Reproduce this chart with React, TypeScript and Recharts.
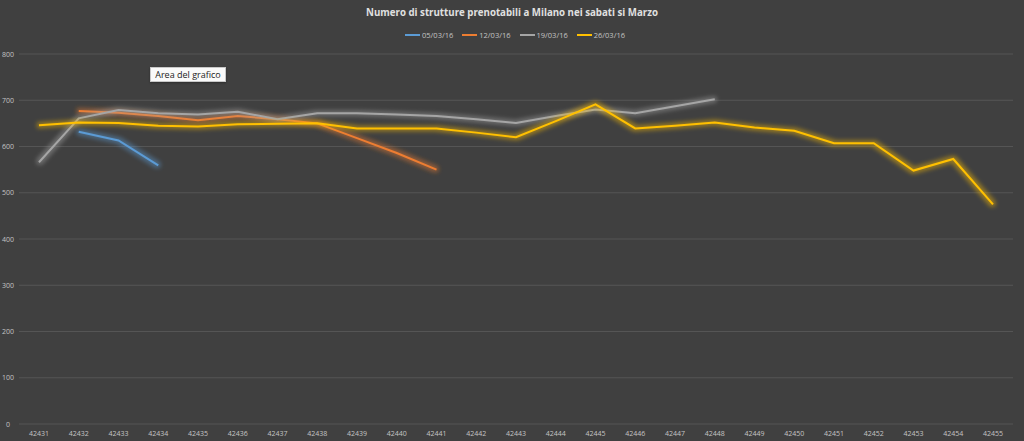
import React from 'react'
import { LineChart, Line, XAxis, YAxis, CartesianGrid } from 'recharts'

// giorni (numeri seriali Excel)
const days = [
  '42431', '42432', '42433', '42434', '42435', '42436', '42437', '42438', '42439',
  '42440', '42441', '42442', '42443', '42444', '42445', '42446', '42447', '42448',
  '42449', '42450', '42451', '42452', '42453', '42454', '42455',
]

const mar05 = [null, 632, 613, 559]
const mar12 = [null, 677, 673, 666, 657, 666, 659, 650, 618, 586, 550]
const mar19 = [566, 661, 679, 672, 669, 675, 659, 672, 672, 669, 666, 659, 651, 666, 680, 672, 687, 702]
const mar26 = [646, 652, 651, 645, 643, 648, 649, 650, 639, 639, 639, 630, 620, 655, 691, 639, 645, 652, 641, 634, 607, 607, 548, 573, 475]

const yTicks = [0, 100, 200, 300, 400, 500, 600, 700, 800]

const series = [
  { key: 's1', name: '05/03/16', color: '#5B9BD5', values: mar05 },
  { key: 's2', name: '12/03/16', color: '#ED7D31', values: mar12 },
  { key: 's3', name: '19/03/16', color: '#A5A5A5', values: mar19 },
  { key: 's4', name: '26/03/16', color: '#FFC000', values: mar26 },
]

const data = days.map((d, i) => {
  const row: Record<string, any> = { day: d }
  series.forEach(s => { row[s.key] = s.values[i] ?? null })
  return row
})

const font = '"Open Sans", "Liberation Sans", sans-serif'

const css =
  'body{margin:0}' +
  series.map(s => `path.glow-${s.key}, .glow-${s.key} path.recharts-curve{filter:url(#glow-${s.key})}`).join('')

const YTick = (props: any) => (
  <text x={8} y={props.y} dy={2.5} textAnchor="middle" fontSize={7} fill="#c4c4c4" fontFamily={font}>
    {props.payload.value}
  </text>
)

const XTick = (props: any) => (
  <text x={props.x} y={433} dy={2.5} textAnchor="middle" fontSize={7} fill="#c4c4c4" fontFamily={font}>
    {props.payload.value}
  </text>
)

export default function App() {
  return (
    <div style={{ position: 'relative', width: 1024, height: 441, background: '#404040', fontFamily: font }}>
      <style>{css}</style>
      {/* filtri "bagliore" come in Excel */}
      <svg width={0} height={0} style={{ position: 'absolute' }}>
        <defs>
          {series.map(s => (
            <filter key={s.key} id={'glow-' + s.key} filterUnits="userSpaceOnUse" x={0} y={0} width={1024} height={441}>
              <feMorphology in="SourceGraphic" operator="dilate" radius={1.5} result="fat" />
              <feGaussianBlur in="fat" stdDeviation={2} result="blur" />
              <feComponentTransfer in="blur" result="soft">
                <feFuncA type="linear" slope={0.45} />
              </feComponentTransfer>
              <feMerge>
                <feMergeNode in="soft" />
                <feMergeNode in="SourceGraphic" />
              </feMerge>
            </filter>
          ))}
        </defs>
      </svg>
      <div style={{ position: 'absolute', top: 6, left: 0, width: 1024, textAlign: 'center', color: '#e0e0e0', fontSize: 9.7, fontWeight: 700 }}>
        Numero di strutture prenotabili a Milano nei sabati si Marzo
      </div>
      <div style={{ position: 'absolute', top: 30, left: 3, width: 1024, display: 'flex', justifyContent: 'center', gap: 9 }}>
        {series.map(s => (
          <div key={s.key} style={{ display: 'flex', alignItems: 'center', color: '#c4c4c4', fontSize: 7.5 }}>
            <span style={{ display: 'inline-block', width: 15, height: 2, background: s.color, marginRight: 2 }} />
            {s.name}
          </div>
        ))}
      </div>
      <LineChart width={1024} height={441} data={data} margin={{ top: 54, right: 11, bottom: 0, left: 0 }}>
        <CartesianGrid vertical={false} stroke="#555555" />
        <XAxis dataKey="day" height={17} axisLine={false} tickLine={false} interval={0} padding={{ left: 20, right: 20 }} tick={<XTick />} />
        <YAxis width={19} domain={[0, 800]} ticks={yTicks} axisLine={false} tickLine={false} tick={<YTick />} />
        {series.map(s => (
          <Line
            key={s.key}
            className={'glow-' + s.key}
            dataKey={s.key}
            name={s.name}
            stroke={s.color}
            strokeWidth={2}
            dot={false}
            activeDot={false}
            type="linear"
            isAnimationActive={false}
          />
        ))}
      </LineChart>
      <div style={{ position: 'absolute', left: 150, top: 67, width: 76, height: 15, boxSizing: 'border-box', background: '#fafafa', border: '1px solid #c8c8c8', fontSize: 9, color: '#222', lineHeight: '13px', textAlign: 'center', boxShadow: '0 1px 2px rgba(0,0,0,0.3)' }}>
        Area del grafico
      </div>
    </div>
  )
}
